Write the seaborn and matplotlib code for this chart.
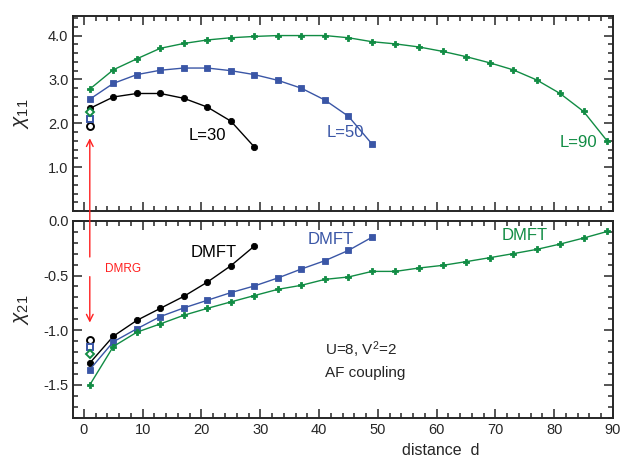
import numpy as np
import matplotlib
matplotlib.use("Agg")
import matplotlib.pyplot as plt
import seaborn as sns
from matplotlib.ticker import MultipleLocator

# distances (step 4)
d30 = [1, 5, 9, 13, 17, 21, 25, 29]
d50 = [1, 5, 9, 13, 17, 21, 25, 29, 33, 37, 41, 45, 49]
d90 = [1, 5, 9, 13, 17, 21, 25, 29, 33, 37, 41, 45, 49, 53, 57, 61, 65, 69, 73, 77, 81, 85, 89]

# chi_11 (DMFT)
chi11_30 = [2.34, 2.60, 2.68, 2.68, 2.57, 2.37, 2.05, 1.46]
chi11_50 = [2.55, 2.91, 3.11, 3.21, 3.26, 3.26, 3.20, 3.11, 2.98, 2.80, 2.53, 2.16, 1.53]
chi11_90 = [2.78, 3.22, 3.47, 3.71, 3.82, 3.90, 3.95, 3.98, 4.00, 4.00, 4.00, 3.95,
            3.86, 3.81, 3.74, 3.64, 3.52, 3.38, 3.22, 2.99, 2.68, 2.27, 1.60]

# chi_21 (DMFT)
chi21_30 = [-1.30, -1.055, -0.91, -0.80, -0.69, -0.56, -0.41, -0.23]
chi21_50 = [-1.36, -1.106, -0.987, -0.875, -0.796, -0.726, -0.656, -0.595, -0.522,
            -0.44, -0.364, -0.27, -0.15]
chi21_90 = [-1.50, -1.149, -1.018, -0.942, -0.863, -0.80, -0.741, -0.683, -0.626,
            -0.589, -0.535, -0.513, -0.462, -0.462, -0.431, -0.407, -0.373, -0.337,
            -0.30, -0.261, -0.212, -0.157, -0.097]

# DMRG values at d=1 (L=30, 50, 90)
dmrg11 = [1.94, 2.10, 2.25]
dmrg21 = [-1.09, -1.155, -1.22]

BLACK = "#000000"
BLUE = "#3a56a6"
GREEN = "#118c44"
RED = "#ff2020"

sns.set_style("ticks")
plt.rcParams['font.family'] = ['Liberation Sans', 'DejaVu Sans']
plt.rcParams['mathtext.fontset'] = 'custom'
plt.rcParams['mathtext.rm'] = 'Liberation Sans'
plt.rcParams['mathtext.it'] = 'Liberation Sans:italic'

fig = plt.figure(figsize=(6.3, 4.65), dpi=100)
ax1 = fig.add_axes([0.1164, 0.546, 0.8566, 0.420])
ax2 = fig.add_axes([0.1164, 0.1017, 0.8566, 0.4233])

series = [
    (d30, chi11_30, chi21_30, BLACK, 'o', 4.5),
    (d50, chi11_50, chi21_50, BLUE, 's', 4),
    (d90, chi11_90, chi21_90, GREEN, 'P', 4.5),
]
for d, y1, y2, c, m, ms in series:
    sns.lineplot(x=d, y=y1, ax=ax1, color=c, marker=m, markersize=ms,
                 markeredgecolor=c, markeredgewidth=0.6, linewidth=1.0, estimator=None)
    sns.lineplot(x=d, y=y2, ax=ax2, color=c, marker=m, markersize=ms,
                 markeredgecolor=c, markeredgewidth=0.6, linewidth=1.0, estimator=None)

open_m = [('o', BLACK, 5), ('s', BLUE, 4.5), ('D', GREEN, 4.5)]
for (m, c, ms), v1, v2 in zip(open_m, dmrg11, dmrg21):
    ax1.plot([1], [v1], marker=m, mfc='white', mec=c, mew=1.4, ms=ms, ls='none', zorder=5)
    ax2.plot([1], [v2], marker=m, mfc='white', mec=c, mew=1.4, ms=ms, ls='none', zorder=5)

for ax in (ax1, ax2):
    ax.set_xlim(-1.8, 90)
    ax.xaxis.set_major_locator(MultipleLocator(10))
    ax.xaxis.set_minor_locator(MultipleLocator(2))
    ax.tick_params(which='both', direction='in', top=True, right=True,
                   labelsize=10.5, width=1.1)
    ax.tick_params(which='major', length=6.5)
    ax.tick_params(which='minor', length=3.5)
    for s in ax.spines.values():
        s.set_linewidth(1.4)

ax1.set_ylim(0, 4.45)
ax1.yaxis.set_major_locator(MultipleLocator(1.0))
ax1.yaxis.set_minor_locator(MultipleLocator(0.2))
ax1.set_yticks([1.0, 2.0, 3.0, 4.0])
ax1.set_yticklabels(['1.0', '2.0', '3.0', '4.0'])
ax1.tick_params(axis='x', labelbottom=False)

ax2.set_ylim(-1.8, 0.0)
ax2.set_yticks([-1.5, -1.0, -0.5, 0.0])
ax2.set_yticklabels(['-1.5', '-1.0', '-0.5', '0.0'])
ax2.yaxis.set_minor_locator(MultipleLocator(0.1))

ax1.set_ylabel(r'$\chi_{11}$', fontsize=15)
ax2.set_ylabel(r'$\chi_{21}$', fontsize=15)
ax1.yaxis.set_label_coords(-0.078, 0.5)
ax2.yaxis.set_label_coords(-0.078, 0.55)
ax2.set_xlabel('distance  d', fontsize=11.5)
ax2.xaxis.set_label_coords(0.68, -0.13)

ax1.text(21, 1.72, 'L=30', color=BLACK, fontsize=12, ha='center', va='center')
ax1.text(44.4, 1.80, 'L=50', color=BLUE, fontsize=12, ha='center', va='center')
ax1.text(84.2, 1.57, 'L=90', color=GREEN, fontsize=12, ha='center', va='center')

ax2.text(22, -0.285, 'DMFT', color=BLACK, fontsize=12, ha='center', va='center')
ax2.text(42, -0.17, 'DMFT', color=BLUE, fontsize=12, ha='center', va='center')
ax2.text(75, -0.136, 'DMFT', color=GREEN, fontsize=12, ha='center', va='center')
ax2.text(41, -1.18, r'U=8, V$^2$=2', fontsize=11, ha='left', va='center')
ax2.text(41, -1.39, 'AF coupling', fontsize=11, ha='left', va='center')
ax2.text(3.6, -0.44, 'DMRG', color=RED, fontsize=8.5, ha='left', va='center')

# DMRG arrows
ax2.annotate('', xy=(1, 1.66), xycoords=ax1.transData,
             xytext=(1, -0.33), textcoords=ax2.transData,
             arrowprops=dict(arrowstyle='->', color=RED, lw=1.0,
                             shrinkA=0, shrinkB=0, mutation_scale=12))
ax2.annotate('', xy=(1, -0.93), xytext=(1, -0.51),
             arrowprops=dict(arrowstyle='->', color=RED, lw=1.0,
                             shrinkA=0, shrinkB=0, mutation_scale=12))

fig.savefig('out.png', dpi=100)
